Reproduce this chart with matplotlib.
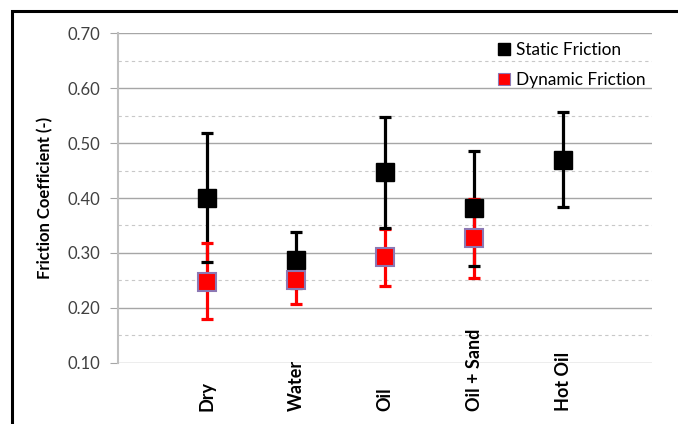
import matplotlib.pyplot as plt
import matplotlib.patches as patches
import matplotlib.transforms as mtransforms
from matplotlib.lines import Line2D
import numpy as np

plt.rcParams['font.family'] = ['Lato', 'DejaVu Sans']

# categories and measured values
conditions = ["Dry", "Water", "Oil", "Oil + Sand", "Hot Oil"]
static_mean = [0.400, 0.287, 0.447, 0.382, 0.470]
static_low = [0.283, 0.237, 0.346, 0.277, 0.383]
static_high = [0.519, 0.338, 0.548, 0.486, 0.557]
dyn_mean = [0.248, 0.250, 0.292, 0.327]
dyn_low = [0.180, 0.208, 0.240, 0.255]
dyn_high = [0.318, 0.272, 0.343, 0.398]

x_s = np.arange(1, len(conditions) + 1)
x_d = np.arange(1, len(dyn_mean) + 1)

fig = plt.figure(figsize=(6.78, 4.24), dpi=100)
ax = fig.add_axes([0.174, 0.144, 0.788, 0.778])

# static friction error bars
s_err = [np.array(static_mean) - np.array(static_low), np.array(static_high) - np.array(static_mean)]
_, s_caps, s_bars = ax.errorbar(x_s, static_mean, yerr=s_err, fmt='none', ecolor='black',
                                elinewidth=2.3, capsize=4, capthick=2.3, zorder=2)
for c in s_caps:
    c.set_zorder(4)

# dynamic friction error bars
d_err = [np.array(dyn_mean) - np.array(dyn_low), np.array(dyn_high) - np.array(dyn_mean)]
ax.errorbar(x_d, dyn_mean, yerr=d_err, fmt='none', ecolor='#ff0000',
            elinewidth=2.3, capsize=4, capthick=2.3, zorder=3)

# markers
ax.plot(x_s, static_mean, 's', color='black', markersize=13, zorder=5)
ax.plot(x_d, dyn_mean, 's', markerfacecolor='#ff0000', markeredgecolor='#8c78b4',
        markeredgewidth=1.5, markersize=13, zorder=5)

ax.set_xlim(0, 6)
ax.set_ylim(0.10, 0.70)
ax.set_yticks(np.arange(0.10, 0.701, 0.10))
ax.set_yticklabels([f"{v:.2f}" for v in np.arange(0.10, 0.701, 0.10)])
ax.set_yticks(np.arange(0.15, 0.70, 0.10), minor=True)
ax.set_xticks(x_s)
ax.set_xticklabels([])

# category labels, rotated and anchored at the bottom like the original
trans = mtransforms.blended_transform_factory(ax.transData, fig.transFigure)
for xi, name in zip(x_s, conditions):
    ax.text(xi, 13 / 424, name, transform=trans, rotation=90, ha='center', va='bottom',
            fontweight='bold', fontsize=13)

ax.grid(axis='y', which='major', color='#a6a6a6', linewidth=1.0)
ax.grid(axis='y', which='minor', color='#c8c8c8', linewidth=0.8, linestyle=(0, (3, 3)))
ax.set_axisbelow(True)

for side in ['top', 'right', 'bottom']:
    ax.spines[side].set_visible(False)
ax.spines['left'].set_color('#bfbfbf')
ax.spines['left'].set_linewidth(1.5)

ax.tick_params(axis='y', which='major', length=6, color='#a6a6a6', labelsize=12,
               labelcolor='#404040', pad=7)
ax.tick_params(axis='y', which='minor', length=0)
ax.tick_params(axis='x', length=0)

ax.set_ylabel("Friction Coefficient (-)", fontweight='bold', fontsize=12, labelpad=10)

handles = [
    Line2D([], [], marker='s', linestyle='none', color='black', markersize=8.5),
    Line2D([], [], marker='s', linestyle='none', markerfacecolor='#ff0000',
           markeredgecolor='#8c78b4', markeredgewidth=0.8, markersize=8.5),
]
ax.legend(handles, ["Static Friction", "Dynamic Friction"], loc='upper left',
          bbox_to_anchor=(0.69, 1.01), frameon=False, fontsize=12.4, handlelength=0.6,
          handletextpad=0.4, labelspacing=0.85, borderaxespad=0.3)

# outer chart border
fig.patches.append(patches.Rectangle((12 / 678, -0.1), 1.2, 1.1 - 11 / 424,
                                     transform=fig.transFigure, fill=False,
                                     edgecolor='black', linewidth=2.2))

fig.savefig("out.png", dpi=100)
